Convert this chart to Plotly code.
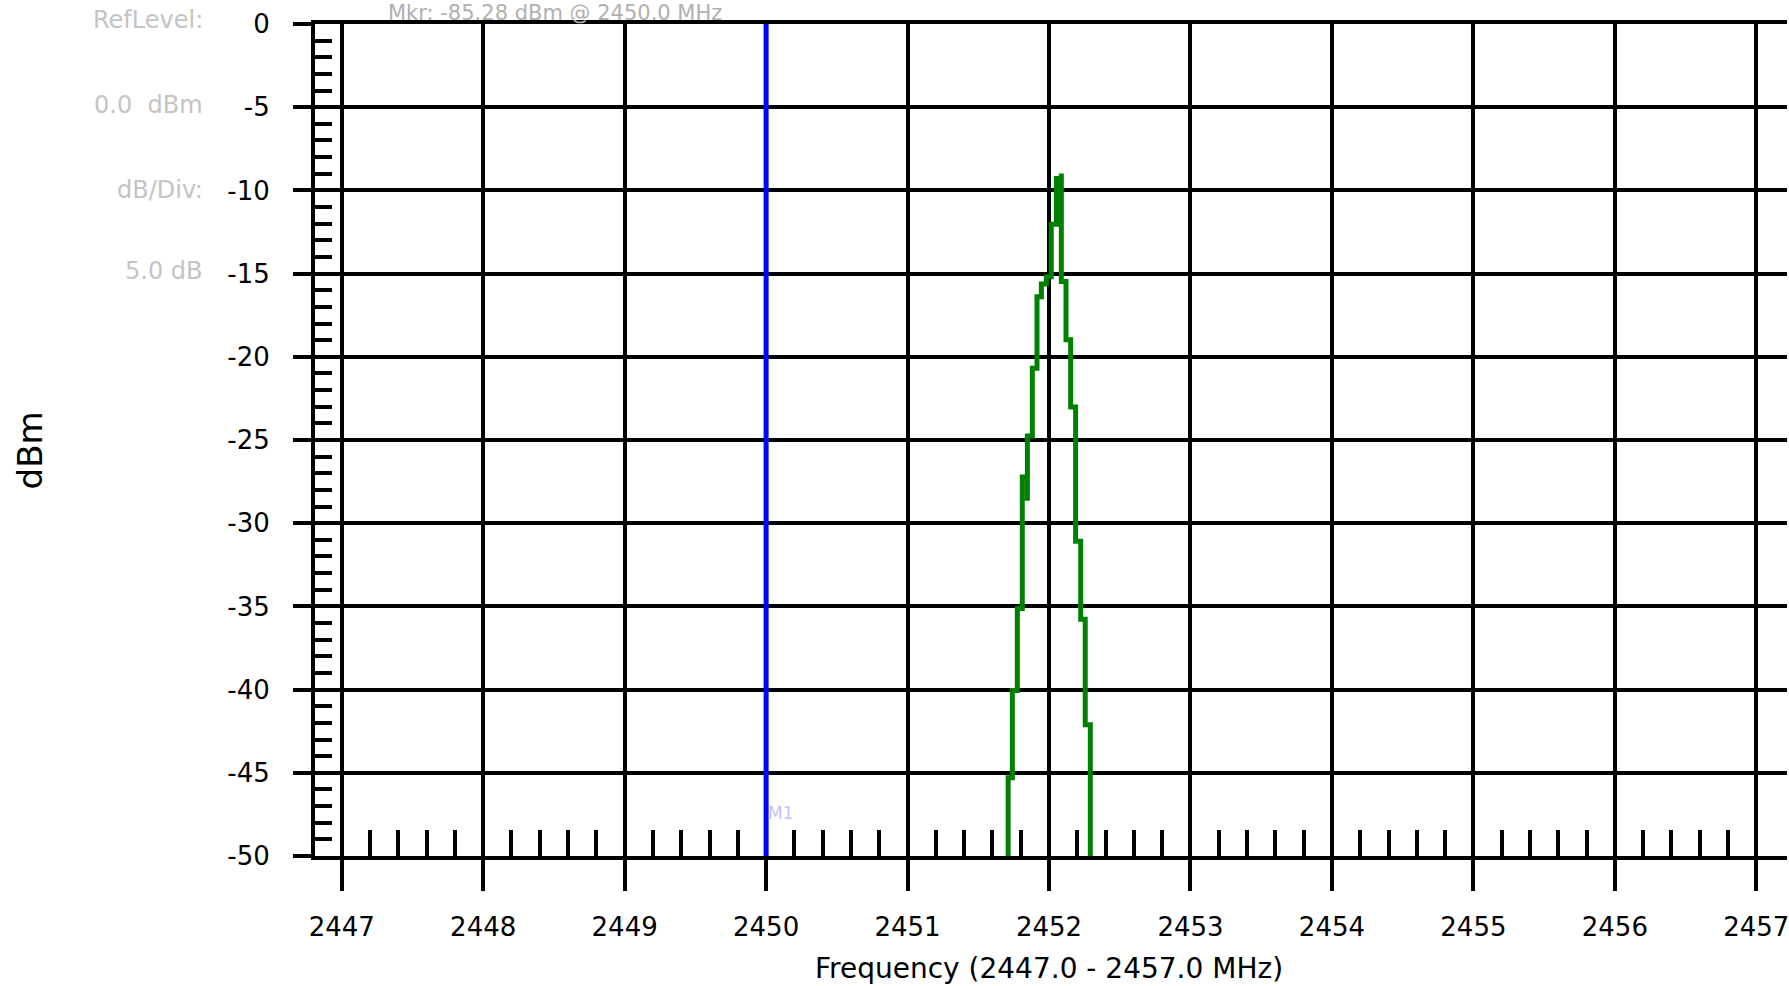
import numpy as np
import plotly.graph_objects as go

# ---------------- data ----------------
freq_ticks = [2447, 2448, 2449, 2450, 2451, 2452, 2453, 2454, 2455, 2456, 2457]
level_ticks = [0, -5, -10, -15, -20, -25, -30, -35, -40, -45, -50]
level_tick_text = ["0", "-5", "-10", "-15", "-20", "-25", "-30", "-35", "-40", "-45", "-50"]

# measured spectrum trace (MHz, dBm) -- stepped display trace
trace_freq_mhz = [2451.711, 2451.711, 2451.741, 2451.776, 2451.811, 2451.847, 2451.847,
                  2451.882, 2451.915, 2451.946, 2451.981, 2452.016, 2452.052, 2452.087,
                  2452.087, 2452.120, 2452.153, 2452.188, 2452.224, 2452.256, 2452.292]
trace_level_dbm = [-60.0, -45.29, -40.05, -35.13, -27.23, -28.65, -24.76,
                   -20.69, -16.39, -15.63, -15.19, -12.04, -9.29, -8.99,
                   -15.47, -18.98, -23.01, -31.08, -35.77, -42.11, -60.0]

marker_freq_mhz = 2450.0
marker_text = "Mkr: -85.28 dBm @ 2450.0 MHz"
marker_label = "M1"
ref_level_lines = ["RefLevel:", "0.0  dBm", "dB/Div:", "5.0 dB"]
x_title = "Frequency (2447.0 - 2457.0 MHz)"
y_title = "dBm"

x_range = [2446.811, 2457.217]
y_range = [-50, 0]

minor_x = [round(v, 1) for v in np.arange(2447.0, 2457.0001, 0.2)
           if abs(v - round(v)) > 1e-6]
minor_y = [v for v in range(-49, 0) if v % 5 != 0]

# ---------------- figure ----------------
W, H = 1789, 986
L, R, T, B = 315, 0, 24, 130
plot_h = H - T - B
plot_w = W - L - R


def px_x(p):
    return (p - L) / plot_w


def px_y(p):
    return (H - B - p) / plot_h


fig = go.Figure()

fig.add_trace(go.Scatter(
    x=[marker_freq_mhz, marker_freq_mhz], y=y_range,
    mode="lines", line=dict(color="#0000ff", width=5),
    hoverinfo="skip", showlegend=False))

fig.add_trace(go.Scatter(
    x=trace_freq_mhz, y=trace_level_dbm,
    mode="lines", line=dict(color="#008000", width=5, shape="hv"),
    showlegend=False))

tick_font = dict(family="DejaVu Sans", size=26, color="black")

fig.update_xaxes(
    range=x_range, tickmode="array", tickvals=freq_ticks,
    ticktext=[str(v) for v in freq_ticks],
    showgrid=True, gridcolor="black", gridwidth=4,
    showline=True, linecolor="black", linewidth=4, mirror=True,
    ticks="outside", ticklen=31, tickwidth=4, tickcolor="black",
    ticklabelstandoff=14, ticklabeloverflow="allow",
    zeroline=False, tickfont=tick_font,
    minor=dict(tickmode="array", tickvals=minor_x, ticks="inside",
               ticklen=26, tickwidth=4, tickcolor="black", showgrid=False),
)

fig.update_yaxes(
    range=y_range, tickmode="array", tickvals=level_ticks, ticktext=level_tick_text,
    showgrid=True, gridcolor="black", gridwidth=4,
    showline=True, linecolor="black", linewidth=4, mirror=False,
    ticks="outside", ticklen=18, tickwidth=4, tickcolor="black",
    ticklabelstandoff=18, zeroline=False, tickfont=tick_font,
    minor=dict(tickmode="array", tickvals=minor_y, ticks="inside",
               ticklen=17, tickwidth=4, tickcolor="black", showgrid=False),
)

annotations = []
# axis titles
annotations.append(dict(text=x_title, xref="paper", yref="paper",
                        x=px_x(1050), y=px_y(968), xanchor="center", yanchor="middle",
                        showarrow=False,
                        font=dict(family="DejaVu Sans", size=28, color="black")))
annotations.append(dict(text=y_title, xref="paper", yref="paper",
                        x=px_x(30), y=px_y(450), xanchor="center", yanchor="middle",
                        textangle=-90, showarrow=False,
                        font=dict(family="DejaVu Sans", size=34, color="black")))
# reference level info on the left
for txt, cy in zip(ref_level_lines, [20, 105, 190, 271]):
    annotations.append(dict(text=txt, xref="paper", yref="paper",
                            x=px_x(205), y=px_y(cy), xanchor="right", yanchor="middle",
                            showarrow=False,
                            font=dict(family="DejaVu Sans", size=24, color="#c4c4c4")))
# marker readout on top
annotations.append(dict(text=marker_text, xref="paper", yref="paper",
                        x=px_x(555), y=px_y(0), xanchor="center", yanchor="top",
                        showarrow=False, borderpad=0,
                        font=dict(family="DejaVu Sans", size=21, color="#b0b0b0")))
# marker label
annotations.append(dict(text=marker_label, xref="paper", yref="paper",
                        x=px_x(781), y=px_y(813), xanchor="center", yanchor="middle",
                        showarrow=False,
                        font=dict(family="DejaVu Sans", size=17, color="#c4c4f4")))

fig.update_layout(
    width=W, height=H,
    margin=dict(l=L, r=R, t=T, b=B, pad=0),
    paper_bgcolor="white", plot_bgcolor="white",
    showlegend=False,
    annotations=annotations,
)

fig.write_html("out.html", config={"displayModeBar": False})
